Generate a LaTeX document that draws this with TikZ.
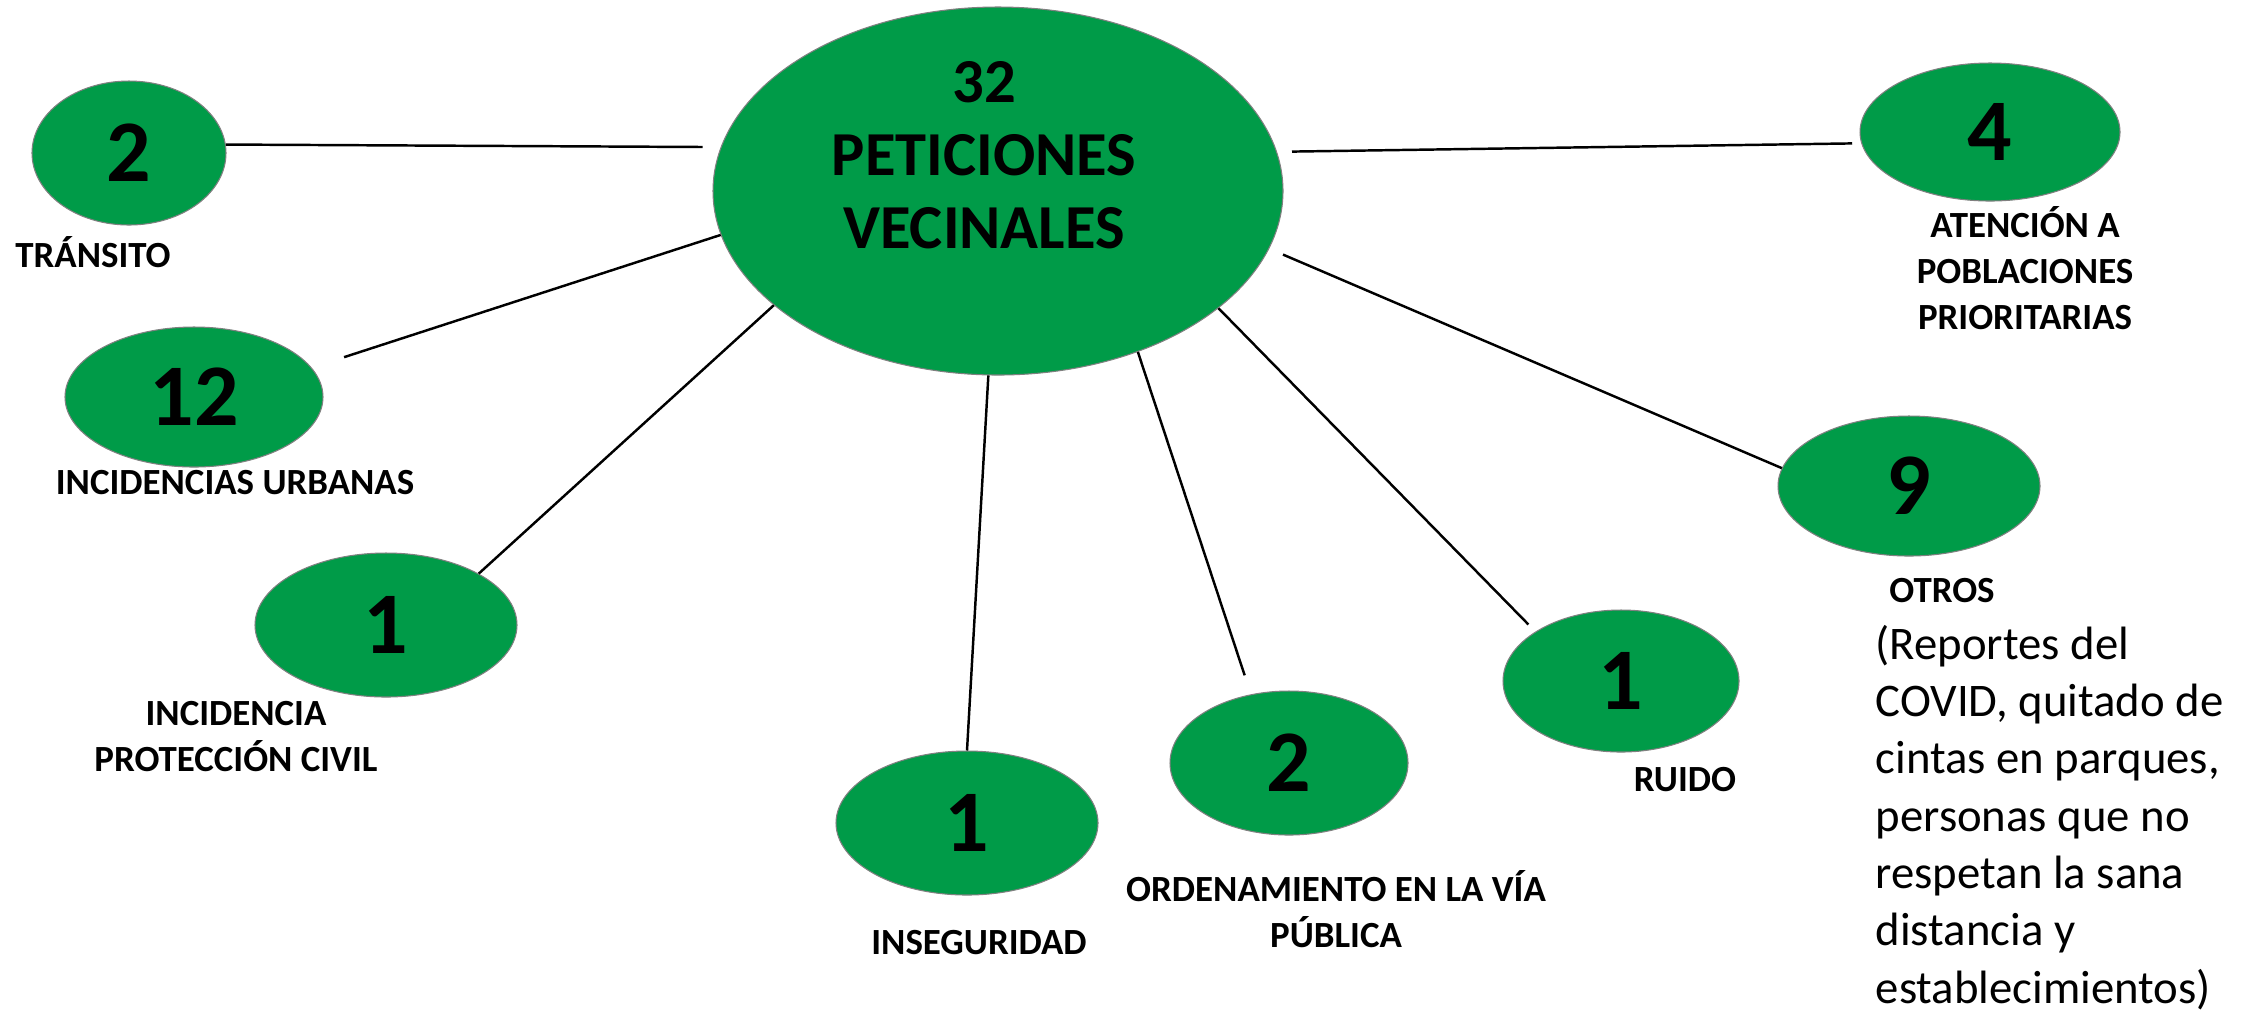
\documentclass[tikz,border=0pt]{standalone}
\usepackage{fontspec}
\setmainfont{Carlito}
\usepackage{tikz}
\usetikzlibrary{shapes.geometric}
\definecolor{myGreen}{RGB}{0,155,72}
\definecolor{myEdge}{RGB}{128,128,128}

\begin{document}
\begin{tikzpicture}[%
    bubble/.style={
        ellipse,
        fill=myGreen,
        draw=myEdge,
        line width=0.3pt,
        inner sep=0pt,
        font=\bfseries\fontsize{25}{30}\selectfont,
    },
    tag/.style={
        font=\bfseries\fontsize{10.5}{13}\selectfont,
        align=center,
        anchor=base,
        inner sep=0pt,
    },
    link/.style={line width=0.7pt},
]
\useasboundingbox (0,0) rectangle (22.49,-10.12);

% draw central bubble
\node[bubble,minimum width=5.70cm,minimum height=3.68cm] (pet) at (9.98,-1.91) {};
\node[align=center,inner sep=0pt,font=\bfseries\fontsize{17.8}{20.8}\selectfont]
    (pettxt) at (9.84,-1.555) {32\\PETICIONES\\VECINALES};

% draw small bubbles
\node[bubble,minimum width=1.94cm,minimum height=1.44cm] (transito) at (1.29,-1.53) {2};
\node[bubble,minimum width=2.58cm,minimum height=1.40cm] (urbanas) at (1.94,-3.97) {12};
\node[bubble,minimum width=2.62cm,minimum height=1.44cm] (civil) at (3.86,-6.25) {1};
\node[bubble,minimum width=2.62cm,minimum height=1.44cm] (inseguridad) at (9.67,-8.23) {1};
\node[bubble,minimum width=2.38cm,minimum height=1.44cm] (via) at (12.89,-7.63) {2};
\node[bubble,minimum width=2.36cm,minimum height=1.42cm] (ruido) at (16.21,-6.81) {1};
\node[bubble,minimum width=2.62cm,minimum height=1.40cm] (otros) at (19.09,-4.86) {9};
\node[bubble,minimum width=2.60cm,minimum height=1.38cm] (atencion) at (19.90,-1.32) {4};

% place labels (base = last line)
\node[tag] (transitotag) at (0.93,-2.67) {TRÁNSITO};
\node[tag] (urbanastag) at (2.35,-4.94) {INCIDENCIAS URBANAS};
\node[tag] (civiltag) at (2.36,-7.71) {INCIDENCIA\\PROTECCIÓN CIVIL};
\node[tag] (inseguridadtag) at (9.79,-9.54) {INSEGURIDAD};
\node[tag] (viatag) at (13.36,-9.47) {ORDENAMIENTO EN LA VÍA\\PÚBLICA};
\node[tag] (ruidotag) at (16.85,-7.91) {RUIDO};
\node[tag] (otrostag) at (19.42,-6.02) {OTROS};
\node[tag] (atenciontag) at (20.25,-3.29) {ATENCIÓN A\\POBLACIONES\\PRIORITARIAS};
\node[anchor=base west,align=left,inner sep=0pt,font=\fontsize{13.3}{16.3}\selectfont]
    (otrosdesc) at (18.75,-10.03) {(Reportes del\\COVID, quitado de\\cintas en parques,\\personas que no\\respetan la sana\\distancia y\\establecimientos)};

% draw connectors
\draw[link,shorten >=0.18cm] (transito.5) -- (pet.171);
\draw[link,shorten <=0.34cm] (urbanas.14) -- (pet.189);
\draw[link] (civil.29) -- (pet.207);
\draw[link] (inseguridad.90) -- (pet.267);
\draw[link,shorten <=0.2cm] (via.119) -- (pet.311);
\draw[link,shorten <=0.1cm] (ruido.150) -- (pet.332);
\draw[link,shorten >=0.15cm] (otros.172) -- (pet.348);
\draw[link,shorten <=0.15cm,shorten >=0.09cm] (pet.8) -- (atencion.185);

\end{tikzpicture}
\end{document}
